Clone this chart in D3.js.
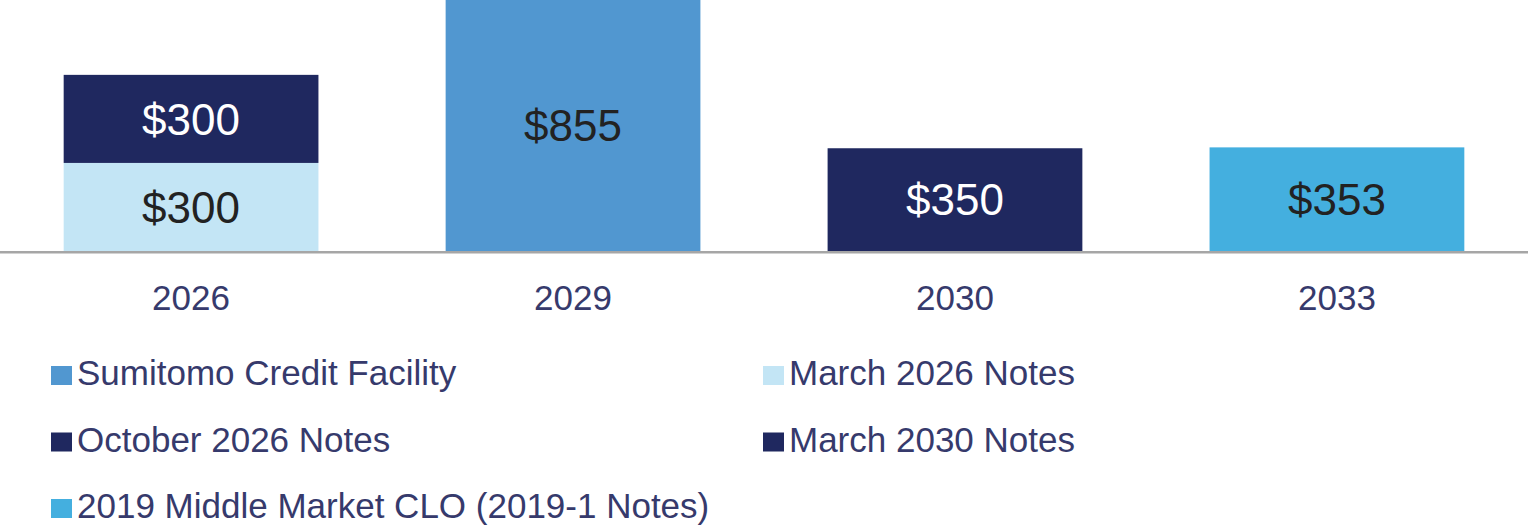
<!DOCTYPE html>
<html>
<head>
<meta charset="utf-8">
<script src="https://cdn.jsdelivr.net/npm/d3@7"></script>
<style>
  html, body { margin: 0; padding: 0; background: #fff; }
  svg { display: block; font-family: "Liberation Sans", Arial, sans-serif; }
</style>
</head>
<body>
<svg id="chart" width="1528" height="530"></svg>
<script>
// Debt maturities by year ($ millions)
const years = ["2026", "2029", "2030", "2033"];
const seriesNames = [
  "March 2026 Notes",
  "October 2026 Notes",
  "Sumitomo Credit Facility",
  "March 2030 Notes",
  "2019 Middle Market CLO (2019-1 Notes)"
];
const march2026Notes   = [300, 0, 0, 0];
const october2026Notes = [300, 0, 0, 0];
const sumitomoFacility = [0, 855, 0, 0];
const march2030Notes   = [0, 0, 350, 0];
const clo2019          = [0, 0, 0, 353];
const seriesColors = ["#c3e5f5", "#1f285f", "#5197d0", "#1f285f", "#44afdf"];
const labelColors  = ["#222222", "#ffffff", "#222222", "#ffffff", "#222222"];
const legendOrder = [
  "Sumitomo Credit Facility", "March 2026 Notes",
  "October 2026 Notes", "March 2030 Notes",
  "2019 Middle Market CLO (2019-1 Notes)"
];

const seriesValues = [march2026Notes, october2026Notes, sumitomoFacility, march2030Notes, clo2019];
const rows = years.map((y, i) => {
  const r = { year: y };
  seriesNames.forEach((n, k) => { r[n] = seriesValues[k][i]; });
  return r;
});

const svg = d3.select("#chart");
const baseY = 251;

const x = d3.scaleBand()
  .domain(years)
  .range([0, 1528])
  .paddingInner(0.333)
  .paddingOuter(0.1667);

const y = d3.scaleLinear()
  .domain([0, 855])
  .range([baseY, 0]);

const stacked = d3.stack().keys(seriesNames)(rows);
const color = d3.scaleOrdinal().domain(seriesNames).range(seriesColors);
const labelColor = d3.scaleOrdinal().domain(seriesNames).range(labelColors);

const layers = svg.append("g").selectAll("g")
  .data(stacked)
  .join("g")
  .attr("fill", d => color(d.key));

layers.selectAll("rect")
  .data(d => d.filter(s => s[1] - s[0] > 0).map(s => ({ key: d.key, s })))
  .join("rect")
  .attr("x", d => x(d.s.data.year))
  .attr("width", x.bandwidth())
  .attr("y", d => y(d.s[1]))
  .attr("height", d => y(d.s[0]) - y(d.s[1]));

// value labels centred in each segment
svg.append("g").selectAll("text")
  .data(stacked.flatMap(d => d.filter(s => s[1] - s[0] > 0).map(s => ({ key: d.key, s }))))
  .join("text")
  .attr("x", d => x(d.s.data.year) + x.bandwidth() / 2)
  .attr("y", d => (y(d.s[0]) + y(d.s[1])) / 2)
  .attr("dy", "0.36em")
  .attr("text-anchor", "middle")
  .attr("font-size", 44)
  .attr("fill", d => labelColor(d.key))
  .text(d => "$" + d3.format(",")(d.s[1] - d.s[0]));

// baseline
svg.append("line")
  .attr("x1", 0).attr("x2", 1528)
  .attr("y1", y(0) + 1.2).attr("y2", y(0) + 1.2)
  .attr("stroke", "#a6a6a6")
  .attr("stroke-width", 2.5);

// category axis
const xAxis = svg.append("g")
  .attr("transform", `translate(0,${baseY})`)
  .call(d3.axisBottom(x).tickSize(0).tickPadding(0));
xAxis.select(".domain").remove();
xAxis.selectAll("text")
  .attr("y", 59)
  .attr("dy", 0)
  .attr("font-size", 35)
  .attr("font-family", "'Liberation Sans', Arial, sans-serif")
  .attr("fill", "#363a6c");

// legend, two columns
const legend = svg.append("g").selectAll("g")
  .data(legendOrder)
  .join("g")
  .attr("transform", (d, i) => `translate(${i % 2 === 0 ? 51 : 763},${385 + Math.floor(i / 2) * 66.5})`);

legend.append("rect")
  .attr("x", 0).attr("y", -19)
  .attr("width", 21).attr("height", 19)
  .attr("fill", d => color(d));

legend.append("text")
  .attr("x", 26)
  .attr("y", 0)
  .attr("font-size", 35)
  .attr("fill", "#363a6c")
  .text(d => d);
</script>
</body>
</html>
